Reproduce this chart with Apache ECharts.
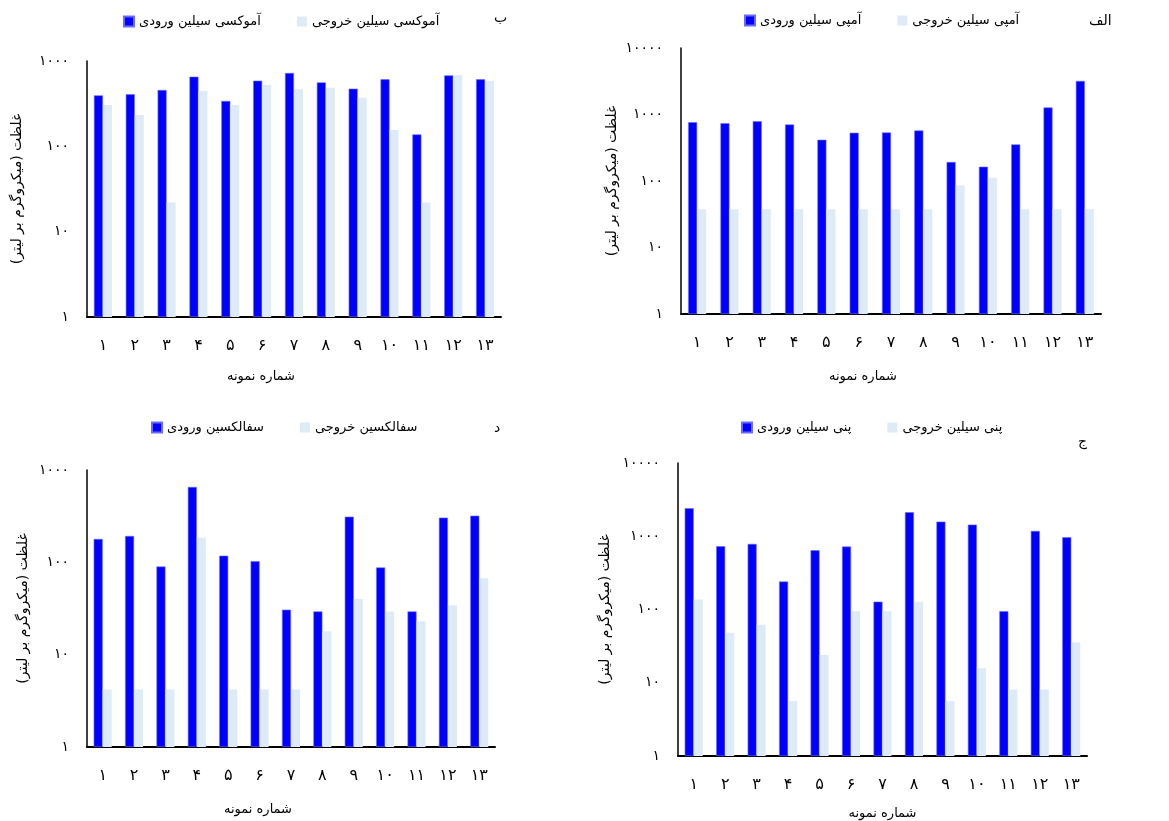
<!DOCTYPE html>
<html>
<head>
<meta charset="utf-8">
<script src="https://cdn.jsdelivr.net/npm/echarts@6/dist/echarts.min.js"></script>
<style>
html,body{margin:0;padding:0;background:#fff;}
#c{width:1169px;height:821px;}
</style>
</head>
<body>
<div id="c" dir="rtl"></div>
<script>
// ---- data ----
const categories = ['۱','۲','۳','۴','۵','۶','۷','۸','۹','۱۰','۱۱','۱۲','۱۳'];
const yTickLabels = ['۱','۱۰','۱۰۰','۱۰۰۰','۱۰۰۰۰'];

const amoxInName = 'آموکسی سیلین ورودی';
const amoxOutName = 'آموکسی سیلین خروجی';
const amoxIn  = [396, 407, 457, 655, 340, 588, 723, 562, 474, 610, 138, 679, 610];
const amoxOut = [305, 233, 22, 445, 305, 523, 466, 487, 372, 155, 22, 679, 583];

const ampInName = 'آمپی سیلین ورودی';
const ampOutName = 'آمپی سیلین خروجی';
const ampIn  = [767, 741, 794, 708, 417, 531, 537, 575, 193, 164, 355, 1274, 3199];
const ampOut = [37.6, 37.6, 37.6, 37.6, 37.6, 37.6, 37.6, 37.6, 86, 112, 37.6, 37.6, 37.6];

const cefInName = 'سفالکسین ورودی';
const cefOutName = 'سفالکسین خروجی';
const cefIn  = [179, 193, 90, 655, 118, 103, 30.7, 29.4, 312, 88, 29.4, 305, 320];
const cefOut = [4.2, 4.2, 4.2, 185, 4.2, 4.2, 4.2, 17.9, 40.1, 29.4, 23, 34.2, 67.1];

const penInName = 'پنی سیلین ورودی';
const penOutName = 'پنی سیلین خروجی';
const penIn  = [2408, 731, 786, 241, 644, 723, 128, 2124, 1585, 1443, 95, 1183, 969];
const penOut = [137, 48, 62, 5.6, 24, 95, 95, 128, 5.6, 15.8, 8.1, 8.1, 35.5];

const yAxisName = 'غلظت (میکروگرم بر لیتر)';
const xAxisName = 'شماره نمونه';
const panelLetters = ['ب', 'الف', 'د', 'ج'];

// ---- layout ----
const FONT = 'DejaVu Sans';
const BLUE = '#0000FF';
const LIGHT = '#DDEBF7';

const panels = [
  {letter: panelLetters[0], inName: amoxInName, outName: amoxOutName, inData: amoxIn, outData: amoxOut, max: 1000,
   grid: {left: 87, top: 61, width: 414, height: 256}, legend: {left: 118, top: 10},
   letterPos: {left: 489, top: 6}, yGap: 63, xGap: 53, xShift: 66},
  {letter: panelLetters[1], inName: ampInName, outName: ampOutName, inData: ampIn, outData: ampOut, max: 10000,
   grid: {left: 681, top: 48, width: 420, height: 266}, legend: {left: 739, top: 9},
   letterPos: {left: 1084, top: 9}, yGap: 62, xGap: 56, xShift: 56},
  {letter: panelLetters[2], inName: cefInName, outName: cefOutName, inData: cefIn, outData: cefOut, max: 1000,
   grid: {left: 87, top: 470, width: 408, height: 277}, legend: {left: 146, top: 416},
   letterPos: {left: 489, top: 416}, yGap: 57, xGap: 56, xShift: 66},
  {letter: panelLetters[3], inName: penInName, outName: penOutName, inData: penIn, outData: penOut, max: 10000,
   grid: {left: 678, top: 463, width: 409, height: 294}, legend: {left: 736, top: 416},
   letterPos: {left: 1073, top: 430}, yGap: 66, xGap: 51, xShift: 0}
];

const option = {
  backgroundColor: '#fff',
  animation: false,
  textStyle: {fontFamily: FONT},
  title: [], legend: [], grid: [], xAxis: [], yAxis: [], series: []
};

panels.forEach((p, i) => {
  option.title.push({text: p.letter, left: p.letterPos.left, top: p.letterPos.top,
    textStyle: {fontFamily: FONT, fontSize: 14, fontWeight: 'normal', color: '#000'}});
  option.legend.push({left: p.legend.left, top: p.legend.top, itemWidth: 10, itemHeight: 10, itemGap: 36,
    icon: 'rect', data: [p.inName, p.outName],
    textStyle: {fontFamily: FONT, fontSize: 13, color: '#000'}});
  option.grid.push(Object.assign({containLabel: false}, p.grid));
  option.xAxis.push({type: 'category', gridIndex: i, data: categories,
    name: xAxisName, nameLocation: 'middle', nameGap: p.xGap,
    nameTextStyle: {fontFamily: FONT, fontSize: 13, color: '#000', padding: [0, p.xShift, 0, 0]},
    axisLine: {lineStyle: {color: '#000', width: 2}}, axisTick: {show: false},
    axisLabel: {fontFamily: FONT, fontSize: 16, color: '#000', margin: 21}});
  option.yAxis.push({type: 'log', gridIndex: i, min: 1, max: p.max, logBase: 10,
    name: yAxisName, nameLocation: 'middle', nameGap: p.yGap, nameRotate: 90,
    nameTextStyle: {fontFamily: FONT, fontSize: 14, color: '#000'},
    axisLine: {show: true, lineStyle: {color: '#000', width: 1.5}}, axisTick: {show: false},
    splitLine: {show: false},
    axisLabel: {fontFamily: FONT, fontSize: 14, color: '#000', margin: 18,
      formatter: v => yTickLabels[Math.round(Math.log10(v))]}});
  option.series.push({type: 'bar', name: p.inName, xAxisIndex: i, yAxisIndex: i, data: p.inData,
    barWidth: 9, barGap: '0%', itemStyle: {color: BLUE, borderColor: '#6a6aff', borderWidth: 0.6}});
  option.series.push({type: 'bar', name: p.outName, xAxisIndex: i, yAxisIndex: i, data: p.outData,
    barWidth: 9, barGap: '0%', itemStyle: {color: LIGHT}});
});

const chart = echarts.init(document.getElementById('c'));
chart.setOption(option);
</script>
</body>
</html>
